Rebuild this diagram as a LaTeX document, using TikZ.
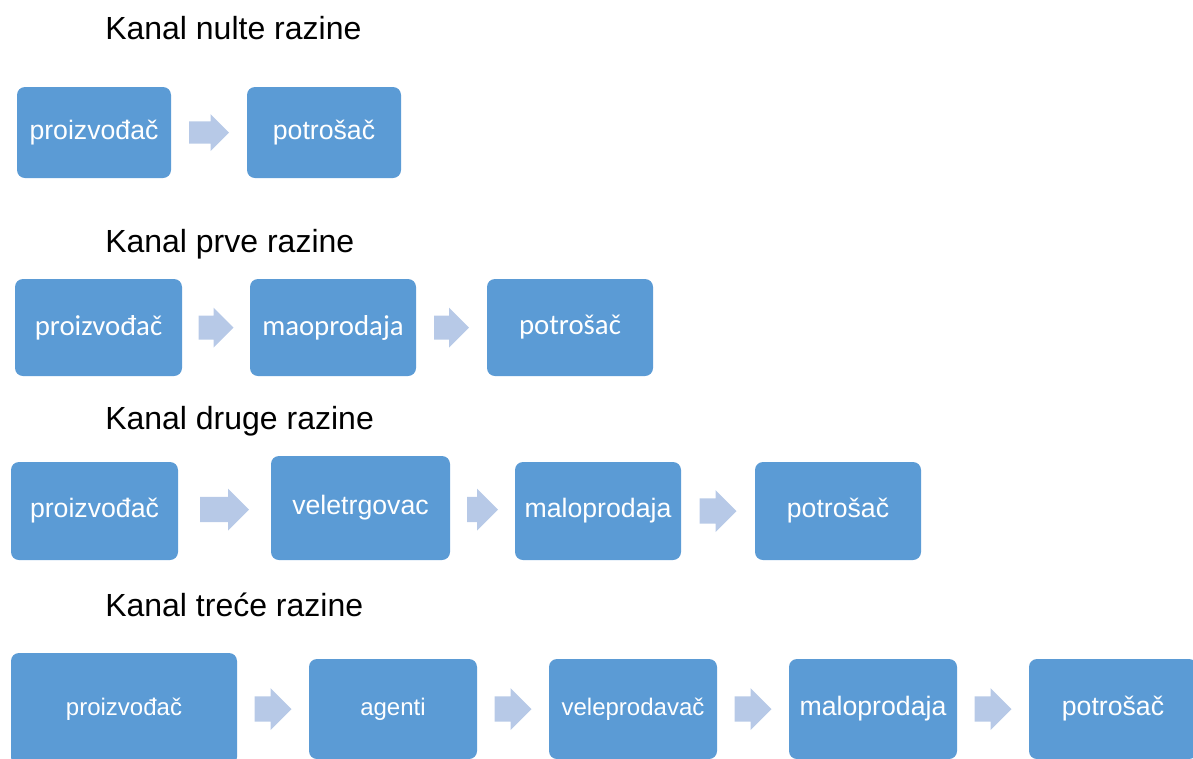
\documentclass[tikz,border=0pt]{standalone}
\usepackage{fontspec}
\setmainfont{Liberation Sans}
\newfontfamily\calibri{Carlito}
\usetikzlibrary{calc}
\definecolor{plava}{HTML}{5B9BD5}
\definecolor{svijetla}{RGB}{183,201,231}
% block arrow between two nodes: #3 length, #4 height (px)
\newcommand{\strelica}[4]{%
  \coordinate (m) at ($(#1.east)!0.5!(#2.west)$);
  \fill[pijl] ($(m)+(-#3/2,-0.3*#4)$) -- ++(#3-0.5*#4,0) -- ++(0,-0.2*#4)
    -- ($(m)+(#3/2,0)$) -- ($(m)+(#3/2-0.5*#4,0.5*#4)$) -- ++(0,-0.2*#4)
    -- ($(m)+(-#3/2,0.3*#4)$) -- cycle;}
\begin{document}
\begin{tikzpicture}[x=0.75pt,y=-0.75pt,
       kutija/.style={rectangle,rounded corners=6pt,fill=plava,text=white,
                      font=\fontsize{20}{24}\selectfont},
       vel/.style 2 args={minimum width=#1*0.75pt,minimum height=#2*0.75pt},
       naslov/.style={anchor=base west,inner sep=0pt,font=\fontsize{24}{29}\selectfont},
       pijl/.style={fill=svijetla}]
   \clip (0,0) rectangle (1193,758);
   % Kanal nulte razine
   \node [naslov] (n0) at (105,39) {Kanal nulte razine};
   \node [kutija,vel={154}{91}] (a1) at (94,132.5) {proizvođač};
   \node [kutija,vel={154}{91}] (a2) at (324,132.5) {potrošač};
   \strelica{a1}{a2}{40}{37}
   % Kanal prve razine
   \node [naslov] (n1) at (105,252) {Kanal prve razine};
   \begin{scope}[kutija/.append style={font=\calibri\fontsize{21.6}{26}\selectfont}]
   \node [kutija,vel={167}{97}] (b1) at (98.5,327.5) {proizvođač};
   \node [kutija,vel={166}{97}] (b2) at (333,327.5) {maoprodaja};
   \node [kutija,vel={166}{97}] (b3) at (570,327.5) {potrošač};
   \end{scope}
   \strelica{b1}{b2}{35}{40}
   \strelica{b2}{b3}{35}{40}
   % Kanal druge razine
   \node [naslov] (n2) at (105,429) {Kanal druge razine};
   \node [kutija,vel={167}{98}] (c1) at (94.5,511) {proizvođač};
   \node [kutija,vel={179}{104}] (c2) at (360.5,508) {veletrgovac};
   \node [kutija,vel={166}{98}] (c3) at (598,511) {maloprodaja};
   \node [kutija,vel={166}{98}] (c4) at (838,511) {potrošač};
   \strelica{c1}{c2}{49}{42}
   \strelica{c2}{c3}{31}{42}
   \strelica{c3}{c4}{37}{42}
   % Kanal trece razine
   \node [naslov] (n3) at (105,616) {Kanal treće razine};
   \begin{scope}[kutija/.append style={font=\fontsize{18}{22}\selectfont}]
   \node [kutija,vel={226}{112}] (d1) at (124,709) {proizvođač};
   \node [kutija,vel={168}{100}] (d2) at (393,709) {agenti};
   \node [kutija,vel={168}{100}] (d3) at (633,709) {veleprodavač};
   \end{scope}
   \node [kutija,vel={168}{100}] (d4) at (873,709) {maloprodaja};
   \node [kutija,vel={168}{100}] (d5) at (1113,709) {potrošač};
   \strelica{d1}{d2}{37}{42}
   \strelica{d2}{d3}{37}{42}
   \strelica{d3}{d4}{37}{42}
   \strelica{d4}{d5}{37}{42}
\end{tikzpicture}
\end{document}
